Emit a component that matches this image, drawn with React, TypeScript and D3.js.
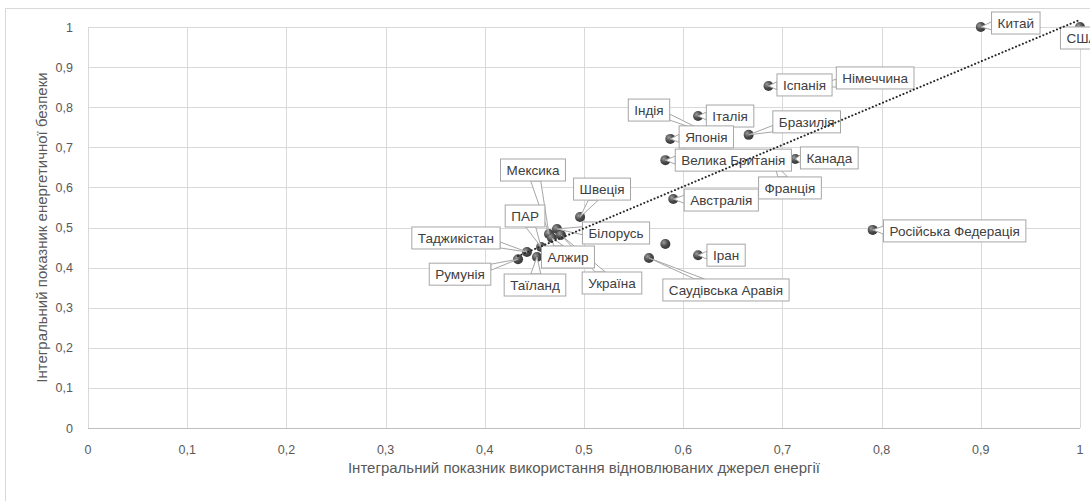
import React, { useEffect, useRef } from "react";
import * as d3 from "d3";

const countries = [
  "Китай", "США", "Іспанія", "Німеччина", "Італія", "Індія", "Японія", "Бразилія",
  "Велика Британія", "Канада", "Франція", "Австралія", "Швеція", "Білорусь", "Мексика",
  "ПАР", "Таджикістан", "Румунія", "Таїланд", "Алжир", "Україна", "Іран", "",
  "Саудівська Аравія", "Російська Федерація",
];
const renewablesIndex = [
  0.90, 1.0, 0.686, 0.733, 0.615, 0.627, 0.587, 0.666,
  0.582, 0.713, 0.6925, 0.590, 0.496, 0.4728, 0.4647,
  0.4567, 0.4425, 0.4335, 0.4526, 0.4677, 0.4768, 0.615, 0.582,
  0.5655, 0.791,
];
const securityIndex = [
  1.0, 1.0, 0.853, 0.853, 0.778, 0.733, 0.721, 0.731,
  0.668, 0.671, 0.656, 0.571, 0.526, 0.4963, 0.4838,
  0.4514, 0.439, 0.421, 0.4264, 0.4738, 0.4813, 0.431, 0.459,
  0.424, 0.494,
];
const xTicks = [0, 0.1, 0.2, 0.3, 0.4, 0.5, 0.6, 0.7, 0.8, 0.9, 1];
const yTicks = [0, 0.1, 0.2, 0.3, 0.4, 0.5, 0.6, 0.7, 0.8, 0.9, 1];
const trendSlope = 1.04;
const trendIntercept = -0.022;
const xTitle = "Інтегральний показник використання відновлюваних джерел енергії";
const yTitle = "Інтегральний показник енергетичної безпеки";

// layout: label box centre offsets from the marker, in pixels
const labelOffsets: [number, number][] = [
  [35, -4], [2, 11], [36, -1], [60, -8], [32, 0], [-61, -24], [36, -2], [58, -13],
  [68, 0], [34, -1], [15, 23], [48, 1], [22, -28], [59, 4], [-16, -64],
  [-16, -31], [-71, -14], [-58, 15], [-2, 28], [16, 19], [51, 48], [28, 0], [0, 0],
  [77, 32], [82, 1],
];

const W = 1090;
const H = 501;
const M = { left: 88, right: 1080, top: 27, bottom: 428 };
const FONT = "'Liberation Sans', Arial, sans-serif";

export default function App() {
  const ref = useRef<SVGSVGElement | null>(null);

  useEffect(() => {
    const svg = d3.select(ref.current);
    svg.selectAll("*").remove();

    const x = d3.scaleLinear().domain([0, 1]).range([M.left, M.right]);
    const y = d3.scaleLinear().domain([0, 1]).range([M.bottom, M.top]);

    const defs = svg.append("defs");
    const grad = defs.append("radialGradient").attr("id", "dotg").attr("cx", "35%").attr("cy", "35%").attr("r", "65%");
    grad.append("stop").attr("offset", "0%").attr("stop-color", "#9a9a9a");
    grad.append("stop").attr("offset", "60%").attr("stop-color", "#4a4a4a");
    grad.append("stop").attr("offset", "100%").attr("stop-color", "#3a3a3a");

    svg.append("rect").attr("x", 0).attr("y", 0).attr("width", W).attr("height", H).attr("fill", "#fff");
    svg.append("rect").attr("x", 5.5).attr("y", 8.5).attr("width", 1200).attr("height", 600)
      .attr("fill", "none").attr("stroke", "#d9d9d9");

    // grid
    const g = svg.append("g");
    g.selectAll("line.gx").data(xTicks.slice(1)).join("line")
      .attr("x1", (d) => Math.round(x(d)) + 0.5).attr("x2", (d) => Math.round(x(d)) + 0.5)
      .attr("y1", M.top).attr("y2", M.bottom).attr("stroke", "#d9d9d9");
    g.selectAll("line.gy").data(yTicks.slice(1)).join("line")
      .attr("x1", M.left).attr("x2", M.right)
      .attr("y1", (d) => Math.round(y(d)) + 0.5).attr("y2", (d) => Math.round(y(d)) + 0.5)
      .attr("stroke", "#d9d9d9");
    g.append("line").attr("x1", M.left + 0.5).attr("x2", M.left + 0.5).attr("y1", M.top).attr("y2", M.bottom).attr("stroke", "#d9d9d9");
    g.append("line").attr("x1", M.left).attr("x2", M.right).attr("y1", M.bottom + 0.5).attr("y2", M.bottom + 0.5).attr("stroke", "#bfbfbf");

    const fmt = (d: number) => String(d).replace(".", ",");
    g.selectAll("text.tx").data(xTicks).join("text")
      .attr("x", (d) => x(d)).attr("y", 454).attr("text-anchor", "middle")
      .attr("font-family", FONT).attr("font-size", 12.5).attr("fill", "#595959").text(fmt);
    g.selectAll("text.ty").data(yTicks).join("text")
      .attr("x", 73).attr("y", (d) => y(d) + 4.5).attr("text-anchor", "end")
      .attr("font-family", FONT).attr("font-size", 12.5).attr("fill", "#595959").text(fmt);

    g.append("text").attr("x", (M.left + M.right) / 2).attr("y", 473).attr("text-anchor", "middle")
      .attr("font-family", FONT).attr("font-size", 15).attr("fill", "#595959").text(xTitle);
    g.append("text").attr("transform", `translate(47,${(M.top + M.bottom) / 2}) rotate(-90)`)
      .attr("text-anchor", "middle")
      .attr("font-family", FONT).attr("font-size", 15).attr("fill", "#595959").text(yTitle);

    const pts = countries.map((c, i) => ({ name: c, vx: renewablesIndex[i], vy: securityIndex[i], off: labelOffsets[i] }));

    // markers
    svg.append("g").selectAll("circle").data(pts).join("circle")
      .attr("cx", (d) => x(d.vx)).attr("cy", (d) => y(d.vy)).attr("r", 5)
      .attr("fill", "url(#dotg)");

    // labels: wedges layer below boxes layer
    const wedgeLayer = svg.append("g");
    const boxLayer = svg.append("g");
    pts.filter((p) => p.name).forEach((p) => {
      const px = x(p.vx);
      const py = y(p.vy);
      const cx = px + p.off[0];
      const cy = py + p.off[1];
      const grp = boxLayer.append("g");
      const t = grp.append("text").attr("x", cx).attr("y", cy + 5).attr("text-anchor", "middle")
        .attr("font-family", FONT).attr("font-size", 13.5).attr("fill", "#404040").text(p.name);
      const tw = (t.node() as SVGTextElement).getComputedTextLength();
      const bw = tw + 12;
      const bh = 22;
      const x0 = cx - bw / 2, y0 = cy - bh / 2, x1 = cx + bw / 2, y1 = cy + bh / 2;
      const inside = px > x0 && px < x1 && py > y0 && py < y1;
      if (!inside) {
        const dx = px - cx, dy = py - cy;
        const sx = Math.abs(dx) / (bw / 2), sy = Math.abs(dy) / (bh / 2);
        let b1: [number, number], b2: [number, number];
        if (sx >= sy) {
          const ex = dx > 0 ? x1 : x0;
          const by = Math.max(y0 + 3, Math.min(y1 - 3, cy + dy / sx));
          const h = Math.min(4, bh / 2 - 1);
          b1 = [ex, Math.max(y0 + 1, by - h)];
          b2 = [ex, Math.min(y1 - 1, by + h)];
        } else {
          const ey = dy > 0 ? y1 : y0;
          const bx = Math.max(x0 + 4, Math.min(x1 - 4, cx + dx / sy));
          b1 = [Math.max(x0 + 1, bx - 5), ey];
          b2 = [Math.min(x1 - 1, bx + 5), ey];
        }
        wedgeLayer.append("path")
          .attr("d", `M${b1[0]},${b1[1]}L${px},${py}L${b2[0]},${b2[1]}Z`)
          .attr("fill", "#fff").attr("stroke", "#a6a6a6");
      }
      grp.insert("rect", "text").attr("x", x0).attr("y", y0).attr("width", bw).attr("height", bh)
        .attr("fill", "#fff").attr("stroke", "#a6a6a6");
    });

    // trendline (drawn above labels, as in the reference)
    const xMin = d3.min(renewablesIndex) as number;
    const xMax = d3.max(renewablesIndex) as number;
    svg.append("line")
      .attr("x1", x(xMin)).attr("y1", y(trendSlope * xMin + trendIntercept))
      .attr("x2", x(xMax)).attr("y2", y(trendSlope * xMax + trendIntercept))
      .attr("stroke", "#262626").attr("stroke-width", 2).attr("stroke-dasharray", "0.1 3.6")
      .attr("stroke-linecap", "round");
  }, []);

  return (
    <svg ref={ref} width={W} height={H} style={{ position: "absolute", left: 0, top: 0, display: "block" }} />
  );
}
